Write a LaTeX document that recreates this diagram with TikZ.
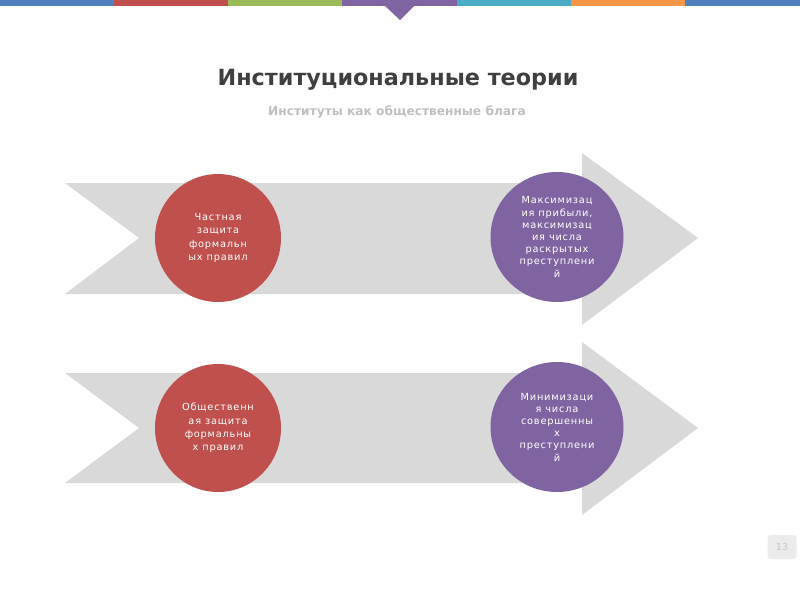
\documentclass[tikz,border=0pt]{standalone}
\usepackage{fontspec}
\setmainfont{DejaVu Sans}
\newfontfamily\circfont[LetterSpace=8]{DejaVu Sans}
\usetikzlibrary{positioning,shapes.geometric}
\definecolor{cblue}{HTML}{4F81BD}
\definecolor{cred}{HTML}{C0504D}
\definecolor{cgreen}{HTML}{9BBB59}
\definecolor{cpurple}{HTML}{8064A2}
\definecolor{cteal}{HTML}{4BACC6}
\definecolor{corange}{HTML}{F79646}
\definecolor{carrow}{HTML}{D9D9D9}
\definecolor{ctitle}{HTML}{3F3F3F}
\definecolor{csub}{HTML}{BFBFBF}
\tikzset{
  bigarrow/.style={fill=carrow, draw=none},
  redcirc/.style={ellipse, draw=none, fill=cred, minimum width=126pt, minimum height=128pt, inner sep=0pt},
  purcirc/.style={ellipse, draw=none, fill=cpurple, minimum width=133pt, minimum height=130pt, inner sep=0pt},
  redtext/.style={text=white, align=center, font=\circfont\fontsize{9.8}{13.3}\selectfont},
  purtext/.style={text=white, align=center, font=\circfont\fontsize{9.8}{12.2}\selectfont},
}
\begin{document}
\begin{tikzpicture}[x=1pt,y=-1pt]
\useasboundingbox (0,0) rectangle (800,600);
\fill[white] (0,0) rectangle (800,600);
% top bar
\fill[cblue]   (0,0) rectangle (114,6);
\fill[cred]    (114,0) rectangle (228,6);
\fill[cgreen]  (228,0) rectangle (342,6);
\fill[cpurple] (342,0) rectangle (457,6);
\fill[cteal]   (457,0) rectangle (571,6);
\fill[corange] (571,0) rectangle (685,6);
\fill[cblue]   (685,0) rectangle (800,6);
\fill[cpurple] (384,5) -- (415,5) -- (400,20) -- cycle;
% title
\node[font=\bfseries\fontsize{22.3}{26}\selectfont, text=ctitle] (title) at (398,80) {Институциональные теории};
\node[font=\bfseries\fontsize{12.2}{14}\selectfont, text=csub] (subtitle) at (397,111.5) {Институты как общественные блага};
% arrows
\fill[bigarrow] (65,183) -- (582,183) -- (582,153) -- (698,238) -- (582,325) -- (582,294) -- (65,294) -- (139,238) -- cycle;
\fill[bigarrow] (65,373) -- (582,373) -- (582,342) -- (698,428) -- (582,515) -- (582,483) -- (65,483) -- (139,428) -- cycle;
% circles
\node[redcirc] (c1) at (218,238) {};
\node[purcirc] (c2) at (557,237) {};
\node[redcirc] (c3) at (218,428) {};
\node[purcirc] (c4) at (557,427) {};
\node[redtext] (t1) at (c1) {Частная\\защита\\формальн\\ых правил};
\node[purtext] (t2) at (c2) {Максимизац\\ия прибыли,\\максимизац\\ия числа\\раскрытых\\преступлени\\й};
\node[redtext] (t3) at (c3) {Общественн\\ая защита\\формальны\\х правил};
\node[purtext] (t4) at (c4) {Минимизаци\\я числа\\совершенны\\х\\преступлени\\й};
% page number
\node[fill=black!8, rounded corners=3pt, minimum width=29pt, minimum height=24pt, inner sep=0pt, text=black!22, font=\fontsize{9.5}{10}\selectfont] (pg) at (782,547) {13};
\end{tikzpicture}
\end{document}
